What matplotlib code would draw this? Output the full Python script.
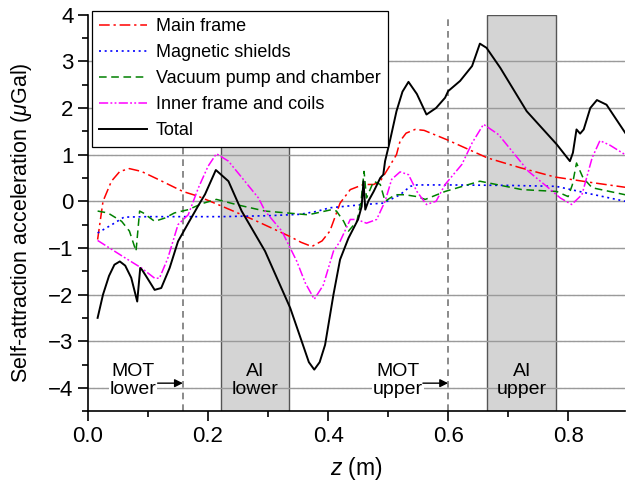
import matplotlib
matplotlib.use("Agg")
import matplotlib.pyplot as plt
from matplotlib.ticker import MultipleLocator

plt.rcParams['font.family'] = ['Liberation Sans', 'DejaVu Sans']
plt.rcParams['mathtext.fontset'] = 'custom'
plt.rcParams['mathtext.it'] = 'Liberation Sans:italic'
plt.rcParams['mathtext.rm'] = 'Liberation Sans'

# ---- data ----
main_x = [0.016, 0.025, 0.039, 0.053, 0.069, 0.089, 0.12, 0.158, 0.183, 0.222, 0.28, 0.3355,
          0.355, 0.373, 0.39, 0.403, 0.42, 0.437, 0.459, 0.476, 0.487, 0.5, 0.514, 0.52,
          0.53, 0.545, 0.56, 0.598, 0.6655, 0.72, 0.778, 0.84, 0.895]
main_y = [-0.82, 0.0, 0.43, 0.64, 0.70, 0.64, 0.45, 0.21, 0.11, -0.1, -0.42, -0.75,
          -0.88, -0.97, -0.85, -0.64, -0.04, 0.25, 0.36, 0.36, 0.43, 0.7, 1.0, 1.29,
          1.46, 1.54, 1.52, 1.32, 0.93, 0.72, 0.52, 0.40, 0.30]

shield_x = [0.016, 0.04, 0.06, 0.1, 0.222, 0.3, 0.353, 0.38, 0.403, 0.459, 0.492, 0.52,
            0.537, 0.548, 0.6, 0.7, 0.78, 0.84, 0.895]
shield_y = [-0.68, -0.5, -0.34, -0.33, -0.33, -0.31, -0.28, -0.22, -0.14, -0.07, -0.04, 0.14,
            0.32, 0.35, 0.35, 0.34, 0.32, 0.15, 0.0]

vac_x = [0.016, 0.033, 0.056, 0.069, 0.08, 0.086, 0.092, 0.111, 0.128, 0.144, 0.167, 0.19,
         0.214, 0.25, 0.295, 0.367, 0.406, 0.414, 0.426, 0.434, 0.448, 0.455, 0.46, 0.464,
         0.476, 0.487, 0.495, 0.512, 0.528, 0.548, 0.562, 0.595, 0.653, 0.723, 0.781, 0.80,
         0.807, 0.814, 0.825, 0.84, 0.895]
vac_y = [-0.21, -0.25, -0.43, -0.64, -1.07, -0.21, -0.25, -0.43, -0.36, -0.25, -0.18, -0.05,
         0.04, -0.08, -0.21, -0.29, -0.18, -0.21, -0.43, -0.64, -0.43, 0.0, 0.64, 0.07,
         0.43, 0.36, 0.0, 0.14, 0.14, 0.1, 0.04, 0.21, 0.43, 0.25, 0.21, 0.1, 0.35, 0.82,
         0.5, 0.29, 0.14]

inner_x = [0.016, 0.06, 0.089, 0.111, 0.119, 0.133, 0.15, 0.167, 0.184, 0.2, 0.214, 0.234,
           0.26, 0.284, 0.295, 0.323, 0.348, 0.362, 0.377, 0.392, 0.409, 0.42, 0.437,
           0.448, 0.464, 0.481, 0.495, 0.506, 0.52, 0.534, 0.548, 0.564, 0.58, 0.595, 0.623,
           0.64, 0.659, 0.684, 0.734, 0.767, 0.787, 0.806, 0.823, 0.84, 0.853, 0.87, 0.895]
inner_y = [-0.84, -1.2, -1.43, -1.65, -1.65, -1.22, -0.5, -0.29, 0.29, 0.75, 1.02, 0.86,
           0.45, 0.07, -0.21, -0.64, -1.29, -1.75, -2.10, -1.8, -1.07, -0.86, -0.39,
           -0.39, -0.47, -0.39, 0.0, 0.47, 0.63, 0.57, 0.21, -0.07, 0.0, 0.36, 0.79,
           1.25, 1.65, 1.43, 0.64, 0.29, 0.07, -0.07, 0.14, 0.93, 1.30, 1.2, 1.0]

total_x = [0.016, 0.025, 0.035, 0.044, 0.053, 0.062, 0.072, 0.082, 0.087, 0.09, 0.097,
           0.111, 0.122, 0.136, 0.15, 0.167, 0.183, 0.195, 0.213, 0.234, 0.256, 0.295,
           0.337, 0.356, 0.368, 0.377, 0.386, 0.395, 0.409, 0.42, 0.434, 0.45, 0.456,
           0.459, 0.462, 0.467, 0.476, 0.487, 0.492, 0.495, 0.503, 0.514, 0.524, 0.534,
           0.548, 0.564, 0.58, 0.595, 0.6, 0.62, 0.64, 0.653, 0.664, 0.687, 0.731, 0.781,
           0.803, 0.808, 0.814, 0.82, 0.826, 0.837, 0.848, 0.864, 0.895]
total_y = [-2.50, -2.0, -1.6, -1.36, -1.29, -1.38, -1.64, -2.15, -1.43, -1.47, -1.61,
           -1.9, -1.86, -1.43, -0.86, -0.47, -0.11, 0.15, 0.67, 0.43, -0.21, -1.07,
           -2.29, -3.0, -3.45, -3.61, -3.45, -3.08, -2.0, -1.25, -0.79, -0.39, -0.11,
           0.43, -0.18, 0.0, 0.21, 0.5, 0.57, 0.86, 1.29, 1.93, 2.35, 2.56,
           2.3, 1.86, 2.0, 2.22, 2.36, 2.58, 2.9, 3.38, 3.29, 2.86, 1.93, 1.22,
           0.86, 1.04, 1.54, 1.45, 1.54, 2.0, 2.17, 2.07, 1.47]

labels = ["Main frame", "Magnetic shields", "Vacuum pump and chamber",
          "Inner frame and coils", "Total"]
ai_regions = [(0.222, 0.3355), (0.6655, 0.78)]
ai_labels = ["AI\nlower", "AI\nupper"]
mot_lines = [0.158, 0.6]
mot_labels = ["MOT\nlower", "MOT\nupper"]

# ---- figure ----
fig = plt.figure(figsize=(6.26, 4.82), dpi=100)
ax = fig.add_axes([0.1406, 0.147, 0.858, 0.8225])
ax.set_xlim(0, 0.895)
ax.set_ylim(-4.5, 4)

# grids
for yv in [-4, -3, -2, -1, 0, 1, 2, 3]:
    ax.axhline(yv, color='#9a9a9a', lw=1.0, zorder=1.5)
for yv in [-4.5 + 0.5 + i for i in range(8)]:
    ax.axhline(yv, color='#c8c8c8', lw=0.8, ls=(0, (2, 2)), zorder=0.5)

for (a, b), lab in zip(ai_regions, ai_labels):
    ax.axvspan(a, b, facecolor='#d4d4d4', edgecolor='#555555', lw=1.0, zorder=1)
    ax.text((a + b) / 2, -3.85, lab, ha='center', va='center', fontsize=14,
            linespacing=1.1, zorder=4)

for xv, lab in zip(mot_lines, mot_labels):
    ax.axvline(xv, color='#777777', lw=1.2, ls=(0, (4, 3)), zorder=2)
    ax.text(xv - 0.083, -3.85, lab, ha='center', va='center', fontsize=14,
            linespacing=1.1, zorder=4,
            bbox=dict(facecolor='white', edgecolor='none', pad=0.5))
    ax.annotate("", xy=(xv, -3.9), xytext=(xv - 0.042, -3.9),
                arrowprops=dict(arrowstyle='-|>', color='black', lw=1.0,
                                mutation_scale=12, shrinkA=0, shrinkB=0), zorder=4)

ax.plot(main_x, main_y, color='#ff0000', lw=1.1, ls=(0, (7, 2.5, 1.5, 2.5)),
        label=labels[0], zorder=3)
ax.plot(shield_x, shield_y, color='#0000ff', lw=1.2, ls=(0, (1.2, 2.2)),
        label=labels[1], zorder=3)
ax.plot(vac_x, vac_y, color='#008000', lw=1.1, ls=(0, (5, 3)),
        label=labels[2], zorder=3)
ax.plot(inner_x, inner_y, color='#ff00ff', lw=1.1,
        ls=(0, (6, 1.5, 1.2, 1.5, 1.2, 1.5)), label=labels[3], zorder=3)
ax.plot(total_x, total_y, color='black', lw=1.4, label=labels[4], zorder=3.5)

ax.spines['top'].set_visible(False)
ax.spines['right'].set_visible(False)
ax.spines['left'].set_linewidth(1.2)
ax.spines['bottom'].set_linewidth(1.2)
ax.xaxis.set_major_locator(MultipleLocator(0.2))
ax.xaxis.set_minor_locator(MultipleLocator(0.1))
ax.yaxis.set_major_locator(MultipleLocator(1))
ax.yaxis.set_minor_locator(MultipleLocator(0.5))
ax.tick_params(which='major', direction='out', length=7, width=1.2, labelsize=16)
ax.tick_params(which='minor', direction='out', length=4, width=1.2)
ax.set_xticks([0.0, 0.2, 0.4, 0.6, 0.8])
ax.set_xticklabels(['0.0', '0.2', '0.4', '0.6', '0.8'])
ax.set_yticks([-4, -3, -2, -1, 0, 1, 2, 3, 4])
ax.set_yticklabels(['\u22124', '\u22123', '\u22122', '\u22121', '0', '1', '2', '3', '4'])

ax.set_xlabel(r'$z$ (m)', fontsize=16.5, labelpad=6)
ax.set_ylabel(r'Self-attraction acceleration ($\mu$Gal)', fontsize=15.5)
ax.yaxis.set_label_coords(-0.100, 0.475)

leg = ax.legend(loc='upper left', bbox_to_anchor=(0.147, 0.977),
                bbox_transform=fig.transFigure, fontsize=13, frameon=True,
                fancybox=False, edgecolor='black', framealpha=1,
                handlelength=2.65, labelspacing=0.5, borderpad=0.4,
                borderaxespad=0, handletextpad=0.5)
leg.get_frame().set_linewidth(0.9)
leg.set_zorder(5)

fig.savefig('out.png', dpi=100)
